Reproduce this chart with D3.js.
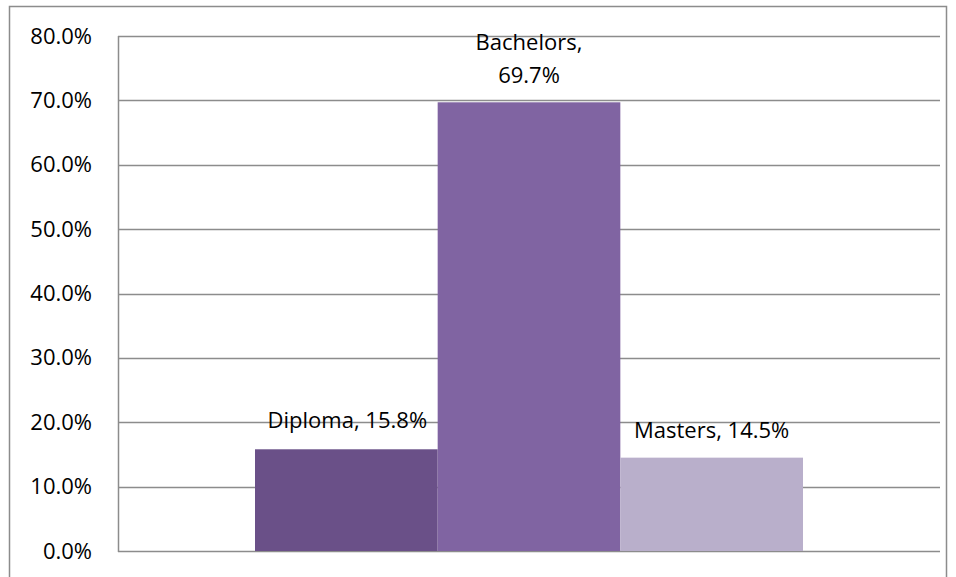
<!DOCTYPE html>
<html lang="en">
<head>
<meta charset="UTF-8">
<title>Degree distribution</title>
<script src="https://d3js.org/d3.v7.min.js"></script>
<style>
    body { margin: 0; background: #fff; font-family: Carlito, Calibri, "Open Sans", sans-serif; }
    .axis text { font-size: 22px; fill: #000; font-family: "Open Sans", sans-serif; }
    .label { font-size: 22px; fill: #000; font-family: "Open Sans", sans-serif; }
</style>
</head>
<body>
<svg id="chart" width="956" height="577"></svg>
<script>
    // data
    const categories = ["Diploma", "Bachelors", "Masters"];
    const values = [15.8, 69.7, 14.5];
    const colors = ["#6a5088", "#8064a2", "#b9afcb"];
    const yTicks = [0, 10, 20, 30, 40, 50, 60, 70, 80];

    const margin = { top: 36, right: 16, bottom: 26, left: 118 },
          width = 956 - margin.left - margin.right,
          height = 577 - margin.top - margin.bottom;

    const root = d3.select("#chart");

    // outer frame of the chart area (bottom edge is off the picture)
    root.append("path")
        .attr("d", "M9.5,577 V6.5 H946.5 V577")
        .attr("fill", "none")
        .attr("stroke", "#8c8c8c")
        .attr("stroke-width", 1.5);

    const svg = root.append("g")
        .attr("transform", "translate(" + margin.left + "," + margin.top + ")");

    const y = d3.scaleLinear().domain([0, 80]).range([height, 0]);

    // single category group, bars take 2/3 of the width (gap 50%)
    const group = d3.scaleBand().domain(["all"]).range([0, width]).paddingInner(0).paddingOuter(0.25);
    const x = d3.scaleBand().domain(categories).range([group("all"), group("all") + group.bandwidth()]);

    // gridlines
    svg.append("g")
        .selectAll("line")
        .data(yTicks)
        .enter().append("line")
        .attr("x1", 0)
        .attr("x2", width)
        .attr("y1", d => Math.round(y(d)) + 0.5)
        .attr("y2", d => Math.round(y(d)) + 0.5)
        .attr("stroke", "#8c8c8c")
        .attr("stroke-width", 1.5);

    // y axis line
    svg.append("line")
        .attr("x1", 0.5).attr("x2", 0.5)
        .attr("y1", 0).attr("y2", height + 1)
        .attr("stroke", "#8c8c8c")
        .attr("stroke-width", 1.5);

    const yAxis = d3.axisLeft(y)
        .tickValues(yTicks)
        .tickSize(0)
        .tickPadding(26)
        .tickFormat(d => d.toFixed(1) + "%");

    svg.append("g")
        .attr("class", "axis")
        .call(yAxis)
        .call(g => g.select(".domain").remove());

    // bars
    svg.selectAll(".bar")
        .data(categories)
        .enter().append("rect")
        .attr("class", "bar")
        .attr("x", d => x(d))
        .attr("width", x.bandwidth())
        .attr("y", (d, i) => y(values[i]))
        .attr("height", (d, i) => height - y(values[i]))
        .attr("fill", (d, i) => colors[i]);

    // data labels (baseline offsets above the bar top)
    const labelOffsets = [
        { dx: 1, dy: -21, lines: 1 },
        { dx: 0, dy: -19, lines: 2 },
        { dx: 0, dy: -20, lines: 1 }
    ];

    categories.forEach((c, i) => {
        const cx = x(c) + x.bandwidth() / 2 + labelOffsets[i].dx;
        const top = y(values[i]);
        const t = svg.append("text")
            .attr("class", "label")
            .attr("text-anchor", "middle");
        if (labelOffsets[i].lines === 1) {
            t.attr("x", cx).attr("y", top + labelOffsets[i].dy)
                .text(c + ", " + values[i].toFixed(1) + "%");
        } else {
            t.append("tspan").attr("x", cx).attr("y", top + labelOffsets[i].dy - 33).text(c + ",");
            t.append("tspan").attr("x", cx).attr("y", top + labelOffsets[i].dy).text(values[i].toFixed(1) + "%");
        }
    });
</script>
</body>
</html>
